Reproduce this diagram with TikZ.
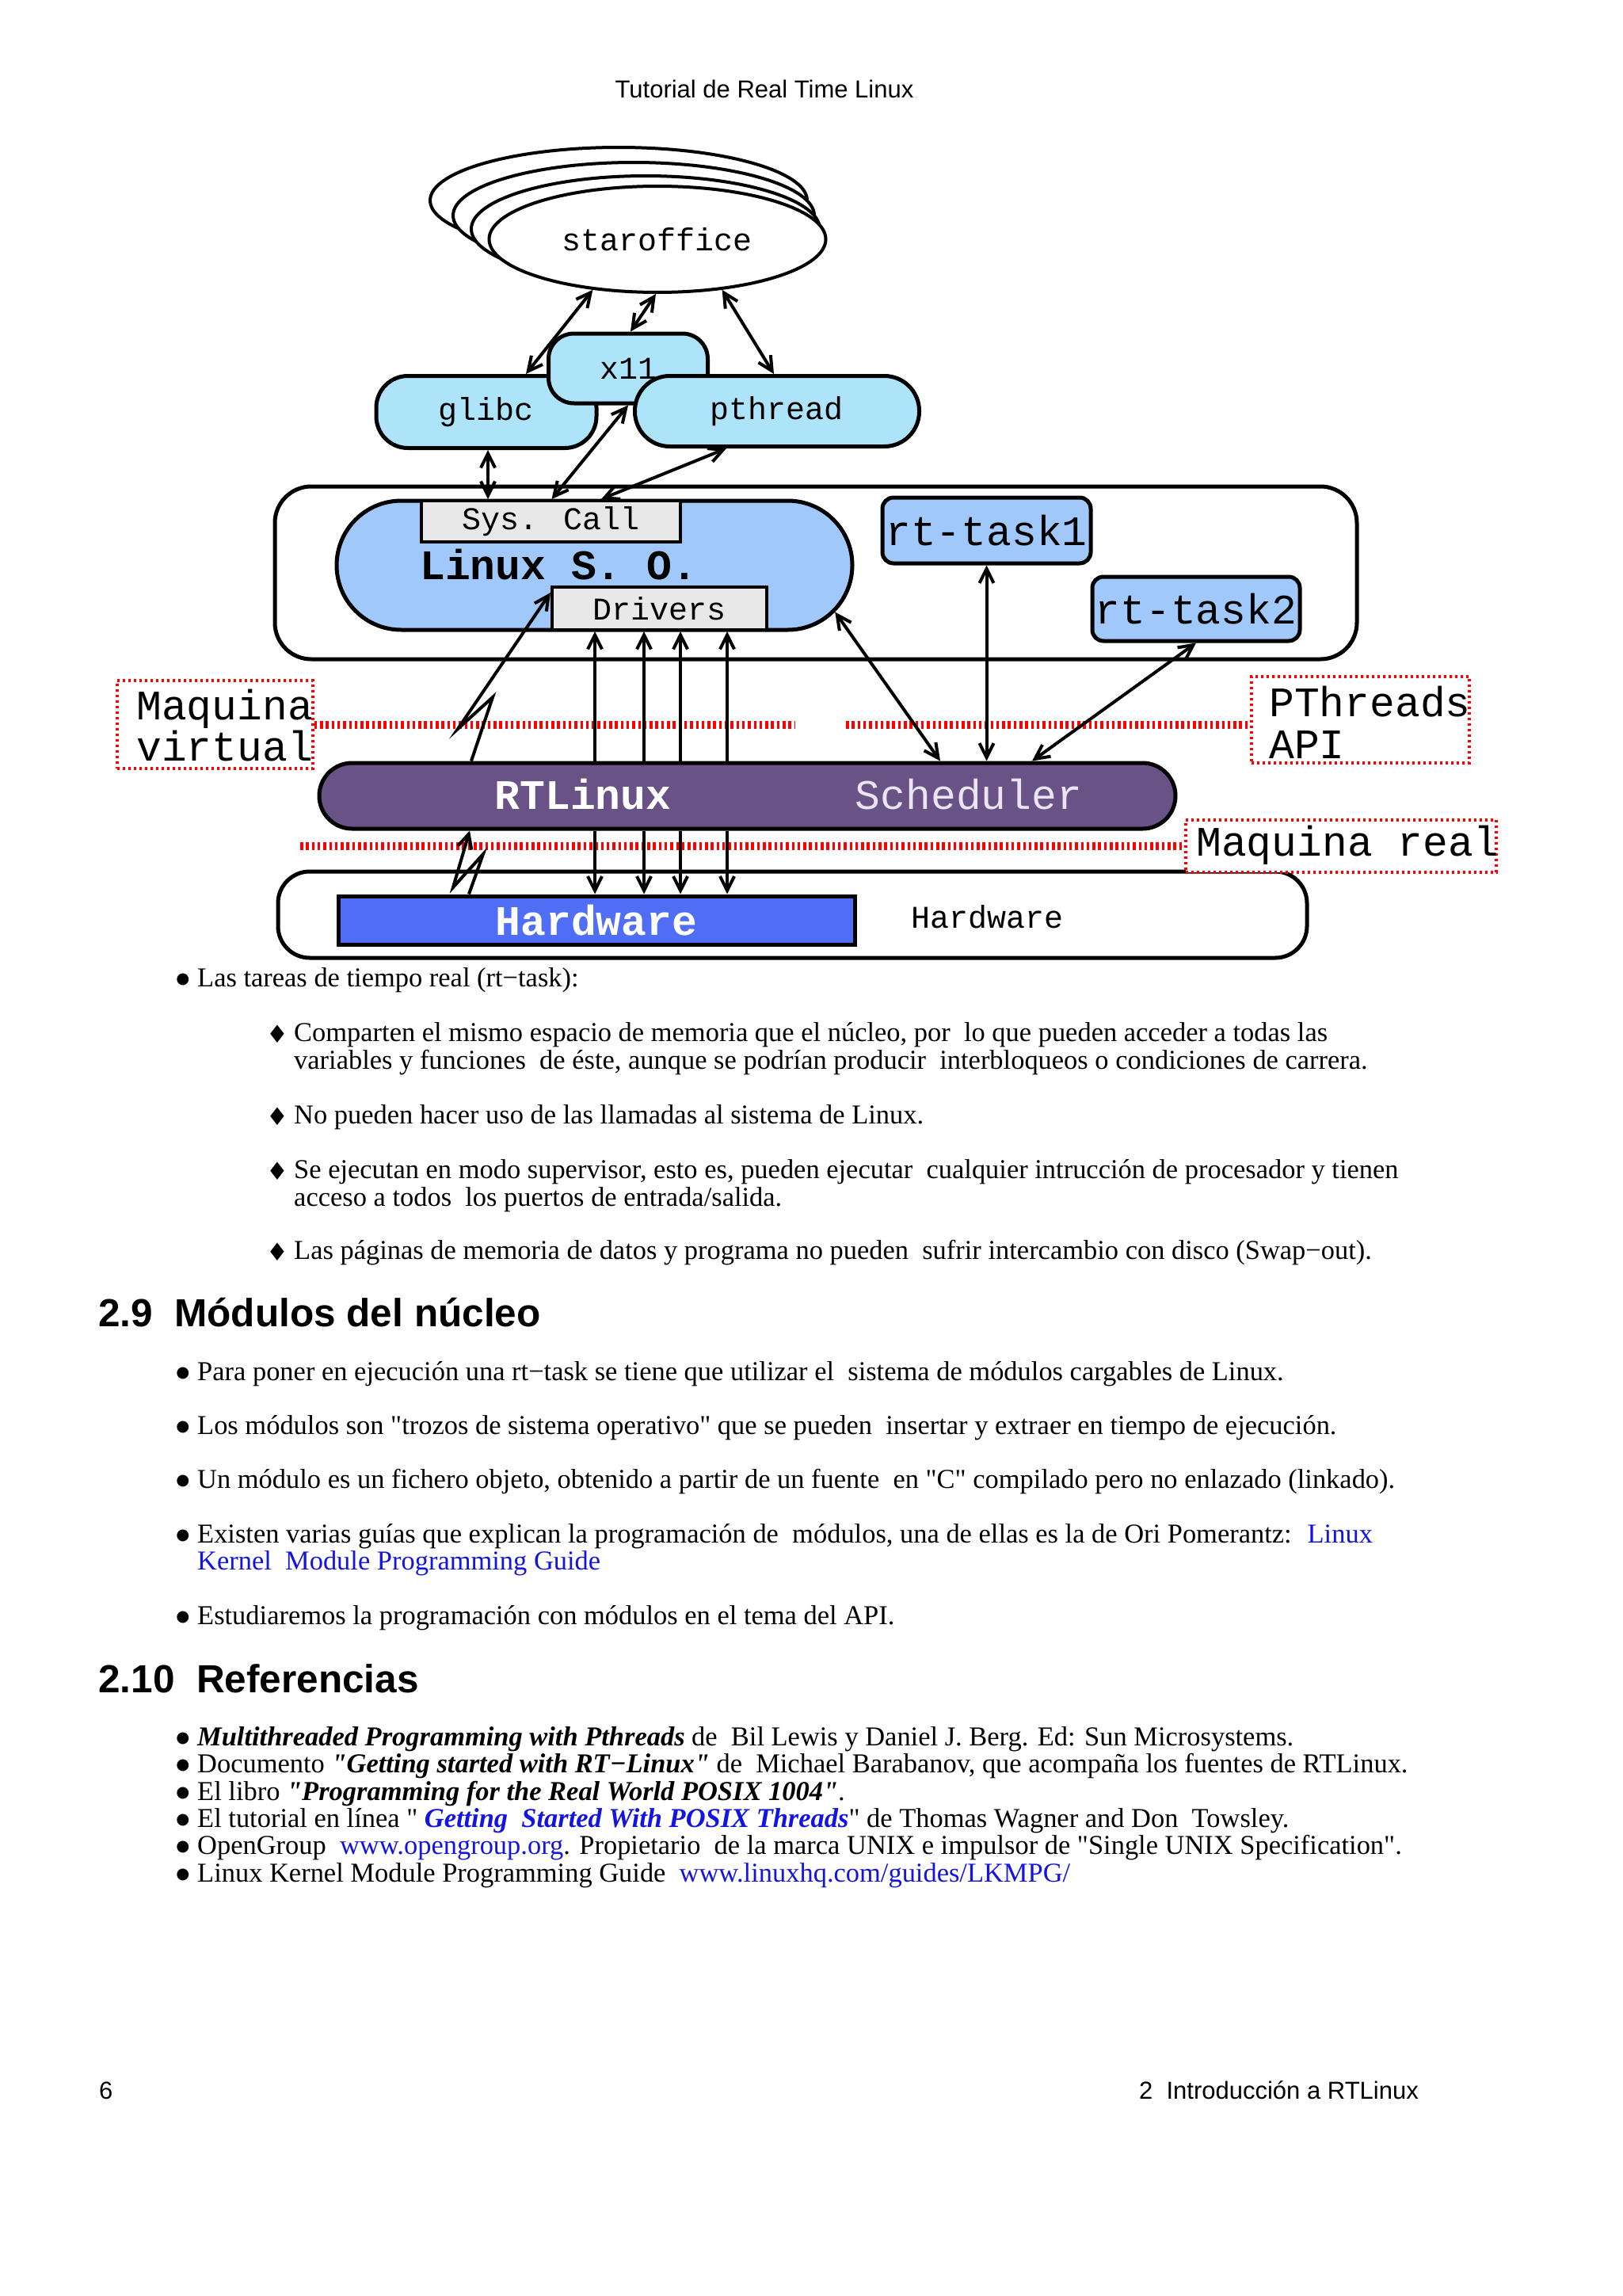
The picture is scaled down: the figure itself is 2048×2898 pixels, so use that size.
\documentclass[tikz,border=0pt]{standalone}
\usepackage{fontspec}
\usetikzlibrary{arrows.meta,shapes.geometric,shapes.misc,calc}
\newfontfamily\bodyfont{Liberation Serif}
\newfontfamily\headfont{Liberation Sans}
\newfontfamily\monofont{Liberation Mono}
\newfontfamily\symfont{DejaVu Sans}
\newcommand{\fbody}{\bodyfont\fontsize{34.45}{34.45}\selectfont}
\newcommand{\fhead}{\headfont\bfseries\fontsize{49.5}{49.5}\selectfont}
\newcommand{\fpage}{\headfont\fontsize{31}{31}\selectfont}
\newcommand{\fmonos}{\monofont\fontsize{40}{40}\selectfont}
\newcommand{\fmonol}{\monofont\fontsize{53}{53}\selectfont}
\newcommand{\fdia}{\symfont\fontsize{31}{31}\selectfont}
\newcommand{\fdot}{\symfont\fontsize{19.5}{19.5}\selectfont}
\definecolor{cyanfill}{RGB}{173,228,250}
\definecolor{bluefill}{RGB}{160,200,250}
\definecolor{grayfill}{RGB}{232,232,232}
\definecolor{purplefill}{RGB}{104,82,134}
\definecolor{hwblue}{RGB}{80,110,245}
\definecolor{linkblue}{RGB}{20,20,225}
\definecolor{schedtxt}{RGB}{235,228,245}
\tikzset{
  bodytxt/.style={font=\fbody, anchor=base west, inner sep=0pt},
  headtxt/.style={font=\fhead, anchor=base west, inner sep=0pt},
  pagetxt/.style={font=\fpage, anchor=base west, inner sep=0pt},
  diam/.style={font=\fdia, inner sep=0pt},
  bdot/.style={font=\fdot, inner sep=0pt},
  cyanbox/.style={draw, line width=5pt, fill=cyanfill, inner sep=0pt, font=\fmonos},
  bluebox/.style={draw, line width=5pt, fill=bluefill, inner sep=0pt, rounded corners=14pt, font=\fmonol},
  graybox/.style={draw, line width=4pt, fill=grayfill, inner sep=0pt, font=\fmonos},
  outerbox/.style={draw, line width=5pt, fill=white, inner sep=0pt},
  redbox/.style={draw=red, line width=3.5pt, dash pattern=on 3pt off 4pt, inner sep=0pt},
  redline/.style={draw=red, line width=10pt, dash pattern=on 3.5pt off 3.8pt},
  arr/.style={line width=4pt, -{Straight Barb[length=18pt,width=18pt]}},
  darr/.style={line width=4pt, {Straight Barb[length=18pt,width=18pt]}-{Straight Barb[length=18pt,width=18pt]}},
  monos/.style={font=\fmonos, inner sep=0pt},
  monol/.style={font=\fmonol, inner sep=0pt}
}
\newcommand{\bulline}[3]{%
  \node[bdot] (#1d) at (231,#2-9) {●};
  \node[bodytxt] (#1) at (249,#2) {#3};}
\newcommand{\dialine}[3]{%
  \node[diam] (#1d) at (350,#2-9) {♦};
  \node[bodytxt] (#1) at (371,#2) {#3};}
\begin{document}
\begin{tikzpicture}[x=1pt,y=-1pt]
\useasboundingbox (0,0) rectangle (2048,2898);
\fill[white] (0,0) rectangle (2048,2898);

% page header
\node[pagetxt, anchor=base] (hdr) at (965,124) {Tutorial de Real Time Linux};

% staroffice stack
\draw[line width=4pt, fill=white] (781,253) ellipse [x radius=238pt, y radius=67pt];
\draw[line width=4pt, fill=white] (800,272) ellipse [x radius=228pt, y radius=67pt];
\draw[line width=4pt, fill=white] (815,289) ellipse [x radius=220pt, y radius=67pt];
\node[ellipse, draw, line width=4pt, fill=white, minimum width=425pt, minimum height=134pt, inner sep=0pt, font=\fmonos] (so) at (830,302) {staroffice};

% libraries
\node[cyanbox, rounded corners=40pt, minimum width=278pt, minimum height=91pt] (glibc) at (614,520) {glibc};
\node[cyanbox, rounded corners=32pt, minimum width=201pt, minimum height=88pt] (x11) at (793,465) {x11};
\node[cyanbox, rounded corners=44pt, minimum width=359pt, minimum height=89pt] (pthread) at (981,519) {pthread};

% virtual machine box
\node[outerbox, rounded corners=46pt, minimum width=1366pt, minimum height=218pt] (vm) at (1030,723) {};
\node[rounded rectangle, draw, line width=5pt, fill=bluefill, minimum width=651pt, minimum height=163pt, inner sep=0pt] (linux) at (750.5,713.5) {};
\node[graybox, minimum width=327pt, minimum height=52pt] (syscall) at (695.5,658) {Sys. Call};
\node[monol, anchor=west] (linuxlbl) at (530,713) {\bfseries Linux S. O.};
\node[graybox, minimum width=271pt, minimum height=54pt] (drivers) at (832.5,768) {Drivers};
\node[bluebox, minimum width=263pt, minimum height=83pt] (rt1) at (1245.5,669.5) {rt-task1};
\node[bluebox, minimum width=262pt, minimum height=81pt] (rt2) at (1510,768.5) {rt-task2};

% red separators and labels
\node[redbox, minimum width=247pt, minimum height=111pt] (mv) at (271.5,914.5) {};
\node[monol, anchor=base west] (mvt1) at (172,908) {Maquina};
\node[monol, anchor=base west] (mvt2) at (172,960) {virtual};
\node[redbox, minimum width=275pt, minimum height=109pt] (pt) at (1717.5,908.5) {};
\node[monol, anchor=base west] (ptt1) at (1602,904) {PThreads};
\node[monol, anchor=base west] (ptt2) at (1602,957) {API};
\draw[redline] (mv.east) -- (1003,914.5);
\draw[redline] (1068,914.5) -- (pt.west |- mv.east);

% RTLinux
\node[rounded rectangle, draw, line width=5pt, fill=purplefill, minimum width=1081pt, minimum height=83pt, inner sep=0pt] (rtl) at (943.5,1004.5) {};
\node[monol, text=white] (rtllbl) at (736,1003) {\bfseries RTLinux};
\node[monol, text=schedtxt] (sched) at (1223,1003) {Scheduler};

% hardware
\node[outerbox, rounded corners=40pt, minimum width=1299pt, minimum height=109pt] (hwbox) at (1000.5,1154.5) {};
\node[redbox, fill=white, minimum width=392pt, minimum height=66pt] (mr) at (1693,1068) {};
\node[monol, anchor=base west] (mrt) at (1510,1080) {Maquina real};
\draw[redline] (379,1068) -- (mr.west);
\node[draw, line width=5pt, fill=hwblue, minimum width=652pt, minimum height=61pt, inner sep=0pt, font=\fmonol, text=white] (hw) at (753,1161.5) {\bfseries Hardware};
\node[monos] (hwlbl) at (1246,1157) {Hardware};

% connectors
\draw[darr] (so.218) -- ([xshift=50pt]glibc.north);
\draw[darr] ([xshift=-2pt]so.south) -- ([xshift=3pt]x11.north);
\draw[darr] (so.322) -- ([xshift=-4pt]pthread.north);
\draw[darr] ([xshift=2pt]glibc.south) -- ([xshift=-79.5pt]syscall.north);
\draw[darr] (x11.south) -- ([xshift=1pt]syscall.north);
\draw[darr] ([xshift=-64pt]pthread.south) -- ([xshift=63.5pt]syscall.north);

\foreach \dx in {-81.5,-19.5,26.5,85.5}{
  \draw[arr] ([xshift=\dx pt]drivers.south |- rtl.north) -- ([xshift=\dx pt]drivers.south);
  \draw[arr] ([xshift=\dx pt]drivers.south |- rtl.south) -- ([xshift=\dx pt]drivers.south |- hw.north);
}
\draw[arr] ($(rtl.north)+(-348.5,0)$) -- (622,880) -- (578,920) -- ($(drivers.north west)+(0,9)$);
\draw[arr] ($(hw.north)+(-161,0)$) -- (610,1078) -- (572,1120) -- ($(rtl.south)+(-350.5,0)$);
\draw[darr] (linux.-11) -- ($(rtl.north)+(243.5,0)$);
\draw[darr] (rt1.south) -- (rt1.south |- rtl.north);
\draw[darr] (rt2.south) -- ($(rtl.north)+(359.5,0)$);

% body text
\bulline{t1}{1245}{Las tareas de tiempo real (rt−task):}
\dialine{t2}{1314}{Comparten el mismo espacio de memoria que el núcleo, por~ lo que pueden acceder a todas las}
\node[bodytxt] (t3) at (371,1349) {variables y funciones~ de éste, aunque se podrían producir~ interbloqueos o condiciones de carrera.};
\dialine{t4}{1418}{No pueden hacer uso de las llamadas al sistema de Linux.}
\dialine{t5}{1487}{Se ejecutan en modo supervisor, esto es, pueden ejecutar~ cualquier intrucción de procesador y tienen}
\node[bodytxt] (t6) at (371,1522) {acceso a todos~ los puertos de entrada/salida.};
\dialine{t7}{1589}{Las páginas de memoria de datos y programa no pueden~ sufrir intercambio con disco (Swap−out).}

\node[headtxt] (h1) at (124,1674) {2.9~ Módulos del núcleo};
\bulline{b1}{1742}{Para poner en ejecución una rt−task se tiene que utilizar el~ sistema de módulos cargables de Linux.}
\bulline{b2}{1810}{Los módulos son "trozos de sistema operativo" que se pueden~ insertar y extraer en tiempo de ejecución.}
\bulline{b3}{1878}{Un módulo es un fichero objeto, obtenido a partir de un fuente~ en "C" compilado pero no enlazado (linkado).}
\bulline{b4}{1947}{Existen varias guías que explican la programación de~ módulos, una de ellas es la de Ori Pomerantz:~ {\color{linkblue}Linux}}
\node[bodytxt, text=linkblue] (b4b) at (249,1981) {Kernel~ Module Programming Guide};
\bulline{b5}{2050}{Estudiaremos la programación con módulos en el tema del API.}

\node[headtxt] (h2) at (124,2136) {2.10~ Referencias};
\bulline{r1}{2203}{{\bfseries\itshape Multithreaded Programming with Pthreads} de~ Bil Lewis y Daniel J. Berg. Ed: Sun Microsystems.}
\bulline{r2}{2237}{Documento {\bfseries\itshape "Getting started with RT−Linux"} de~ Michael Barabanov, que acompaña los fuentes de RTLinux.}
\bulline{r3}{2272}{El libro {\bfseries\itshape "Programming for the Real World POSIX 1004"}.}
\bulline{r4}{2306}{El tutorial en línea "~{\color{linkblue}\bfseries\itshape Getting~ Started With POSIX Threads}" de Thomas Wagner and Don~ Towsley.}
\bulline{r5}{2340}{OpenGroup~ {\color{linkblue}www.opengroup.org}. Propietario~ de la marca UNIX e impulsor de "Single UNIX Specification".}
\bulline{r6}{2375}{Linux Kernel Module Programming Guide~ {\color{linkblue}www.linuxhq.com/guides/LKMPG/}}

% footer
\node[pagetxt] (pg) at (125,2649) {6};
\node[pagetxt, anchor=base east] (ch) at (1791,2649) {2~ Introducción a RTLinux};
\end{tikzpicture}
\end{document}
